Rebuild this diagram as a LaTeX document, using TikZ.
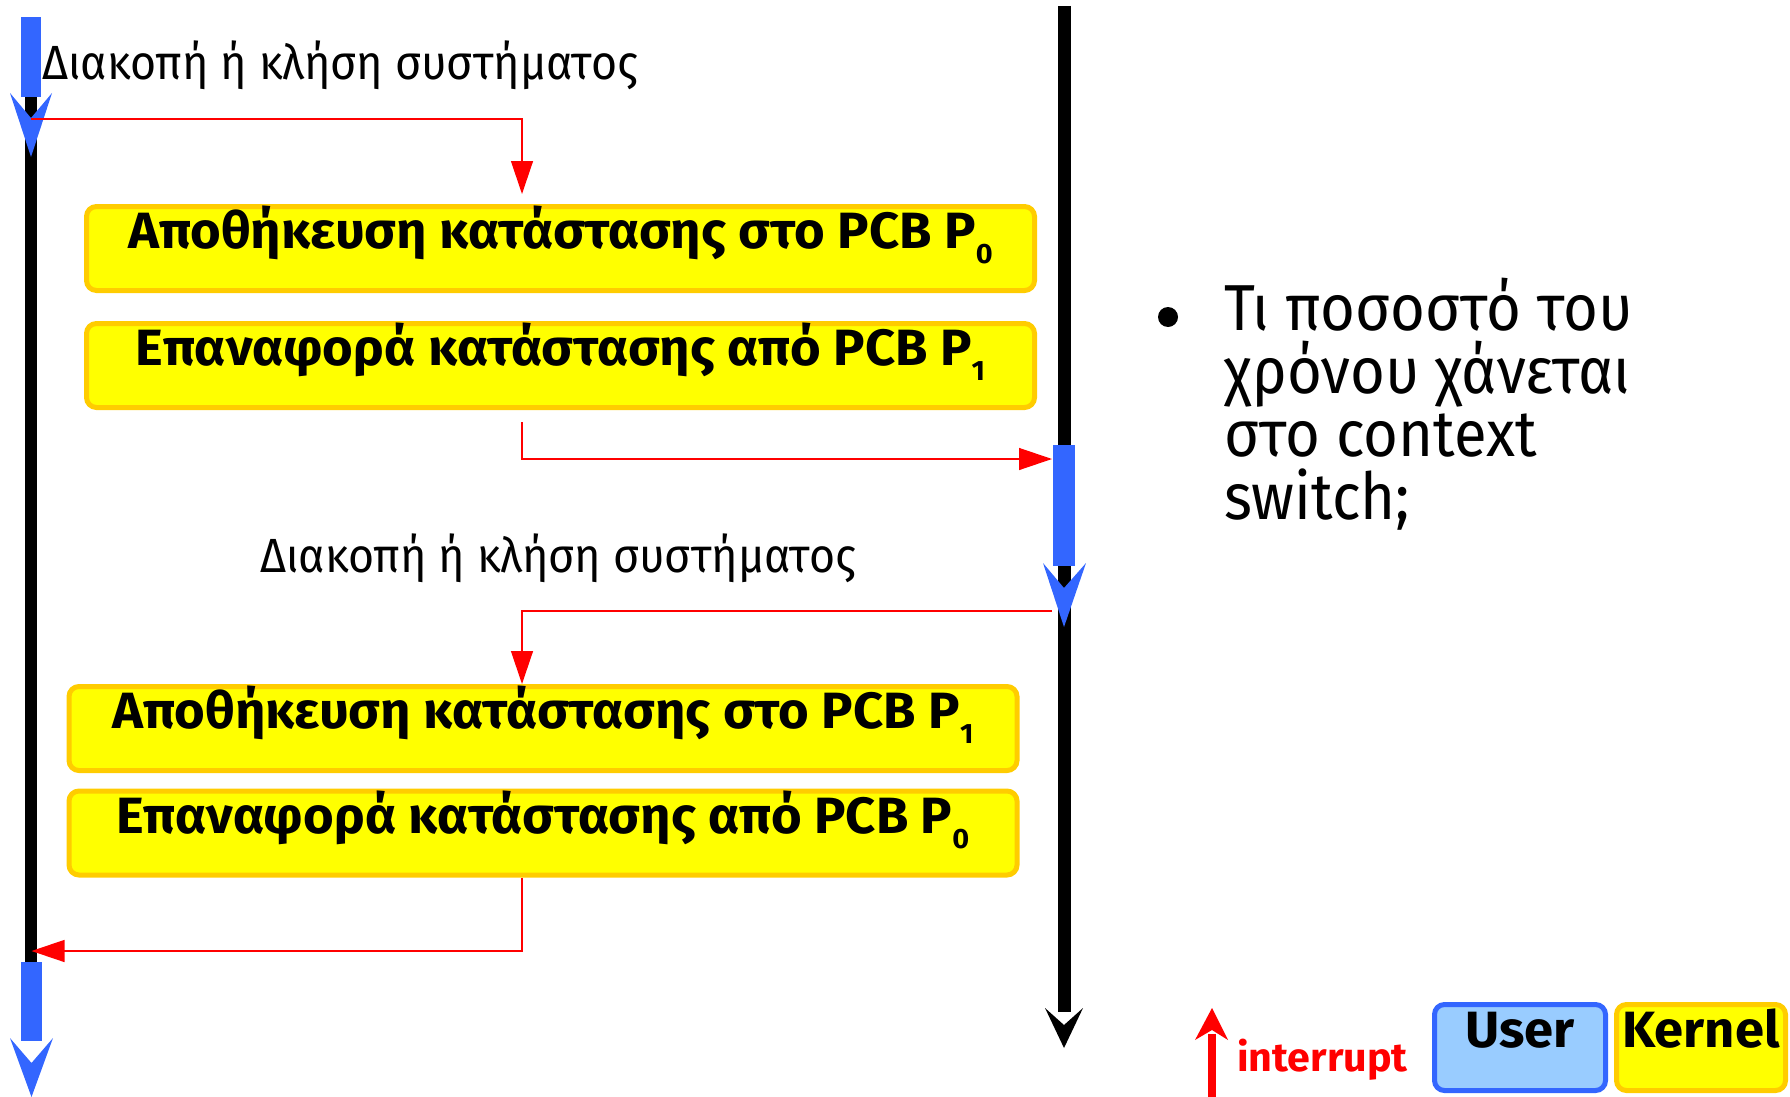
\documentclass[tikz,border=0pt]{standalone}
\usepackage{fontspec}
\setmainfont{Fira Sans}
\newfontfamily\boxfont[FakeStretch=1.03]{Fira Sans}
\newfontfamily\labfont[FakeStretch=0.93]{Fira Sans}
\newfontfamily\qfont[FakeStretch=0.92]{Fira Sans}
\usetikzlibrary{arrows.meta}
\definecolor{ublue}{HTML}{3366FF}
\definecolor{lblue}{HTML}{99CCFF}
\definecolor{kyellow}{HTML}{FFFF00}
\definecolor{korange}{HTML}{FFCC00}
\newcommand\pcbsub[1]{\raisebox{-15pt}{\fontsize{28}{28}\selectfont #1}}
\tikzset{
  kbox/.style={draw=korange, line width=5pt, fill=kyellow, rounded corners=10pt,
    minimum width=948pt, minimum height=84pt, text height=42pt, text depth=42pt,
    inner ysep=0pt, inner xsep=0pt, font=\boxfont\bfseries\fontsize{51}{51}\selectfont},
  ubox/.style={draw=ublue, line width=5pt, fill=lblue, rounded corners=10pt,
    minimum width=171pt, minimum height=86pt, text height=43pt, text depth=43pt,
    inner sep=0pt, font=\boxfont\bfseries\fontsize{51}{51}\selectfont},
  kleg/.style={draw=korange, line width=5pt, fill=kyellow, rounded corners=10pt,
    minimum width=169pt, minimum height=86pt, text height=43pt, text depth=43pt,
    inner sep=0pt, font=\boxfont\bfseries\fontsize{51}{51}\selectfont},
  bluebar/.style={fill=ublue, inner sep=0pt, outer sep=0pt},
  rarrow/.style={draw=red, line width=1.3pt, -{Triangle[length=33pt,width=22pt]}},
  lab/.style={inner sep=0pt, anchor=base west, font=\labfont\fontsize{48}{48}\selectfont},
  qline/.style={inner sep=0pt, anchor=base west, font=\qfont\fontsize{65}{65}\selectfont},
}
\begin{document}
\begin{tikzpicture}[x=1pt,y=-1pt]
\useasboundingbox (0,0) rectangle (1790,1097);
% timelines
\draw[line width=12pt] (31,96) -- (31,962);
\draw[line width=13pt] (1064,6) -- (1064,1012);
\fill (1045,1008) -- (1064,1048) -- (1083,1008) -- (1064,1025) -- cycle;
% blue bars
\node[bluebar, minimum width=20pt, minimum height=80pt] (lbar1) at (31,57) {};
\node[bluebar, minimum width=22pt, minimum height=121pt] (rbar) at (1064,505.5) {};
\node[bluebar, minimum width=21pt, minimum height=79pt] (lbar2) at (31.5,1001.5) {};
\fill[ublue] (10,93) -- (31,157) -- (52,93) -- (31,118) -- cycle;
\fill[ublue] (1043,563) -- (1064,627) -- (1086,563) -- (1064,588) -- cycle;
\fill[ublue] (10,1038) -- (31.5,1097) -- (53,1038) -- (31.5,1063) -- cycle;
% labels
\node[lab] (l1) at (42,80) {Διακοπή ή κλήση συστήματος};
\node[lab] (l2) at (260,572) {Διακοπή ή κλήση συστήματος};
% boxes
\node[kbox] (b1) at (560.5,248.5) {Αποθήκευση κατάστασης στο PCB P\pcbsub{0}};
\node[kbox] (b2) at (560.5,365.5) {Επαναφορά κατάστασης από PCB P\pcbsub{1}};
\node[kbox] (b3) at (543,728.5) {Αποθήκευση κατάστασης στο PCB P\pcbsub{1}};
\node[kbox] (b4) at (543,833) {Επαναφορά κατάστασης από PCB P\pcbsub{0}};
% connectors
\coordinate (xc) at (522,0);
\draw[rarrow, shorten >=10pt] ([yshift=-22pt]lbar1.south) -| (b1.north -| xc);
\draw[rarrow, shorten <=12pt] (b2.south -| xc) |- ([yshift=-14pt,xshift=-1pt]rbar.north west);
\draw[rarrow] ([yshift=-45pt,xshift=-1pt]rbar.south west) -| (b3.north -| xc);
\draw[rarrow] (b4.south -| xc) |- ([yshift=11pt]lbar2.north);
% question
\node[circle, fill, inner sep=0pt, minimum size=20pt] (bul) at (1168,317) {};
\node[qline] (q1) at (1224,330) {Τι ποσοστό του};
\node[qline] (q2) at (1224,393) {χρόνου χάνεται};
\node[qline] (q3) at (1224,456) {στο context};
\node[qline] (q4) at (1224,519) {switch;};
% legend
\draw[red, line width=8pt] (1212,1097) -- (1212,1034);
\fill[red] (1195,1040) -- (1212,1008) -- (1228,1040) -- (1212,1030) -- cycle;
\node[inner sep=0pt, anchor=base west, text=red, font=\boxfont\bfseries\fontsize{40}{40}\selectfont] (intr) at (1237,1071) {interrupt};
\node[ubox] (user) at (1520,1047.5) {User};
\node[kleg] (kern) at (1701,1047.5) {Kernel};
\end{tikzpicture}
\end{document}
